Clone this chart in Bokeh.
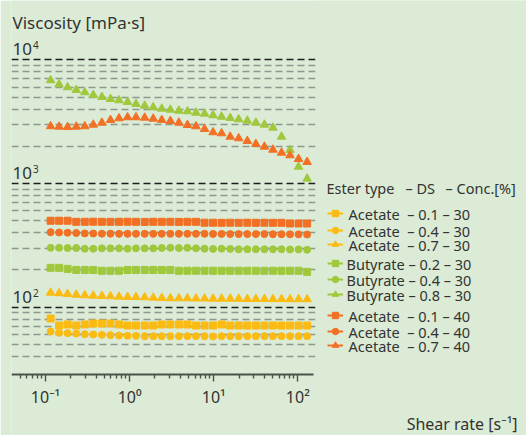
from bokeh.plotting import figure
from bokeh.models import FixedTicker, Legend, LegendItem, Label, BoxAnnotation
from bokeh.core.properties import value
from bokeh.embed import file_html
from bokeh.resources import INLINE

# ---------------- data ----------------
shear_rate = [0.115, 0.145, 0.183, 0.232, 0.293, 0.370, 0.468, 0.592, 0.748, 0.945,
              1.19, 1.51, 1.91, 2.41, 3.05, 3.85, 4.87, 6.15, 7.78, 9.82,
              12.4, 15.7, 19.8, 25.1, 31.7, 40.1, 50.6, 64.0, 80.8, 102.0, 129.0]

acetate_01_30 = [81, 71.1, 72.5, 71.1, 72.5, 73.8, 73.8, 73.8, 72.5, 71.1,
                 71.1, 71.1, 71.1, 72.5, 72.5, 72.5, 72.5, 71.1, 71.1, 71.1,
                 72.5, 71.1, 71.1, 71.1, 71.1, 71.1, 71.1, 71.1, 71.1, 71.1, 71.1]
acetate_04_30 = [63.6, 62.1, 61.7, 61.3, 60.5, 60.2, 59.8, 59.4, 59.0, 58.7,
                 58.7, 58.3, 58.3, 58.3, 58.3, 58.3, 58.3, 58.3, 58.3, 58.0,
                 58.3, 58.3, 58.3, 58.3, 58.3, 58.3, 58.3, 58.3, 58.3, 58.3, 58.3]
acetate_07_30 = [131, 129.6, 127.9, 126.2, 124.8, 123.9, 123.2, 122.5, 121.6, 120.9,
                 120.9, 120.2, 119.4, 118.7, 118, 118, 118, 117.5, 117.5, 117.1,
                 117.1, 117.1, 116.8, 116.5, 116.5, 116.5, 116.2, 116.2, 116, 116, 115.9]
butyrate_02_30 = [208, 208, 204, 200, 200, 200, 197, 197, 197, 200,
                  200, 200, 200, 200, 200, 197, 197, 197, 197, 197,
                  197, 197, 197, 197, 197, 197, 197, 197, 197, 197, 193]
butyrate_04_30 = [302, 302, 301, 301, 297, 297, 299, 299, 299, 297,
                  299, 299, 299, 301, 302, 301, 302, 299, 297, 296,
                  297, 296, 294, 294, 294, 294, 294, 294, 293, 293, 291]
butyrate_08_30 = [6828, 6336, 5993, 5700, 5461, 5193, 5004, 4821, 4706, 4560,
                  4393, 4256, 4130, 4024, 3950, 3877, 3834, 3735, 3667, 3558,
                  3467, 3384, 3304, 3219, 3101, 2988, 2826, 2389, 1866, 1367, 1094]
acetate_01_40 = [500, 500, 500, 490, 490, 491, 490, 490, 490, 491,
                 490, 489, 490, 490, 490, 489, 490, 490, 482, 482,
                 481, 482, 481, 482, 481, 482, 481, 481, 475, 475, 475]
acetate_04_40 = [404, 402, 400, 398, 395, 394, 393, 393, 392, 392,
                 392, 392, 392, 392, 392, 392, 392, 392, 392, 391,
                 391, 390, 390, 390, 390, 390, 389, 389, 388, 388, 387]
acetate_07_40 = [2900, 2879, 2862, 2879, 2900, 2988, 3101, 3261, 3366, 3430,
                 3430, 3404, 3341, 3261, 3201, 3101, 2971, 2900, 2758, 2594,
                 2546, 2389, 2319, 2206, 2086, 1984, 1876, 1774, 1690, 1578, 1492]

series_values = [acetate_01_30, acetate_04_30, acetate_07_30,
                 butyrate_02_30, butyrate_04_30, butyrate_08_30,
                 acetate_01_40, acetate_04_40, acetate_07_40]
series_labels = ["Acetate\u00a0\u00a0\u2013 0.1 \u2013 30", "Acetate\u00a0\u00a0\u2013 0.4 \u2013 30",
                 "Acetate\u00a0\u00a0\u2013 0.7 \u2013 30", "Butyrate \u2013 0.2 \u2013 30",
                 "Butyrate \u2013 0.4 \u2013 30", "Butyrate \u2013 0.8 \u2013 30",
                 "Acetate\u00a0\u00a0\u2013 0.1 \u2013 40", "Acetate\u00a0\u00a0\u2013 0.4 \u2013 40",
                 "Acetate\u00a0\u00a0\u2013 0.7 \u2013 40"]
series_markers = ["square", "circle", "triangle"] * 3
legend_header = ["Ester type", "\u2013 DS", "\u2013 Conc.[%]"]

x_major = [0.1, 1, 10, 100]
x_major_text = ["10\u207b\u00b9", "10\u2070", "10\u00b9", "10\u00b2"]
x_minor = [0.05, 0.06, 0.07, 0.08, 0.09,
           0.2, 0.3, 0.4, 0.5, 0.6, 0.7, 0.8, 0.9,
           2, 3, 4, 5, 6, 7, 8, 9,
           20, 30, 40, 50, 60, 70, 80, 90]
y_major = [10000, 1000, 100]
y_major_base = ["10", "10", "10"]
y_major_exp = ["4", "3", "2"]
y_minor = [40, 50, 60, 70, 80, 90,
           200, 300, 400, 500, 600, 700, 800, 900,
           2000, 3000, 4000, 5000, 6000, 7000, 8000, 9000]

# ---------------- style / layout ----------------
BG = "#dbebd5"
YELLOW = "#fcbb12"
GREEN = "#a0c83c"
ORANGE = "#f27024"
series_colors = [YELLOW] * 3 + [GREEN] * 3 + [ORANGE] * 3
TEXT = "#333333"
FONT = "Noto Sans"

# the frame covers the canvas from x=11 to the right edge and the full height
X0, X1 = 0.0394, 52400
Y0, Y1 = 9.18, 30160
AXIS_Y = 28.57     # data y where the x axis line sits
GRID_END = 162     # data x where the dashed grid stops
AXIS_END = 154     # data x where the axis line stops
frame_left, frame_bottom = 11, 435

p = figure(width=526, height=435, x_axis_type="log", y_axis_type="log",
           x_range=(X0, X1), y_range=(Y0, Y1), y_axis_location=None,
           toolbar_location=None, output_backend="svg",
           min_border_left=11, min_border_right=0, min_border_top=0, min_border_bottom=0,
           background_fill_color=BG, border_fill_color=BG, outline_line_color=None)

# grid
p.xgrid.visible = False
g = p.ygrid[0]
g.ticker = FixedTicker(ticks=y_major, minor_ticks=y_minor)
g.grid_line_color = "#1e1e1e"
g.grid_line_width = 1.3
g.grid_line_dash = "7 4"
g.minor_grid_line_color = "#8d998f"
g.minor_grid_line_width = 1.6
g.minor_grid_line_dash = "7 4"

# hide the grid to the right of the data area (legend area)
p.add_layout(BoxAnnotation(left=GRID_END, fill_color=BG, fill_alpha=1, line_color=None))

# x axis
ax = p.xaxis[0]
ax.fixed_location = AXIS_Y
ax.ticker = FixedTicker(ticks=x_major, minor_ticks=x_minor)
ax.bounds = (X0, AXIS_END)
ax.major_label_overrides = dict(zip(x_major, x_major_text))
ax.axis_line_color = "#4a524c"
ax.axis_line_width = 2
ax.major_tick_in = 0
ax.major_tick_out = 7
ax.minor_tick_in = 0
ax.minor_tick_out = 4
ax.major_tick_line_color = "#4a524c"
ax.minor_tick_line_color = "#4a524c"
ax.major_tick_line_width = 1.4
ax.minor_tick_line_width = 1.4
ax.major_label_text_font = FONT
ax.major_label_text_font_size = "16px"
ax.major_label_text_color = TEXT
ax.major_label_standoff = 4

# y "tick labels" drawn above the decade grid lines
p.text(x=[X0] * len(y_major), y=y_major, text=y_major_base, x_offset=1, y_offset=-10.5,
       text_font=value(FONT), text_font_size="17px", text_color=TEXT,
       text_baseline="middle", text_align="left")
p.text(x=[X0] * len(y_major), y=y_major, text=y_major_exp, x_offset=21.5, y_offset=-14.5,
       text_font=value(FONT), text_font_size="10px", text_color=TEXT,
       text_baseline="middle", text_align="left")

def add_label(txt, x, y_mid, size, align="left"):
    # y_mid: vertical middle of the text, in pixels from the top of the canvas
    p.add_layout(Label(x=x - frame_left, y=frame_bottom - y_mid, x_units="screen",
                       y_units="screen", text=txt, text_font=FONT, text_font_size=size,
                       text_color=TEXT, text_align=align, text_baseline="middle"))

# data + legend (legend glyphs via Legend, legend texts via Labels)
legend_rows_y = [212.7, 229.5, 243.8, 262.7, 278.8, 293.5, 315, 331.3, 345.3]
legend_text_x = [348, 348, 348, 346, 346, 346, 348, 348, 348]
for vals, lab, mk, col, yc, tx in zip(series_values, series_labels, series_markers,
                                      series_colors, legend_rows_y, legend_text_x):
    size = 8.5 if mk == "triangle" else 7
    r = p.scatter(shear_rate, vals, marker=mk, size=size, fill_color=col, line_color=col)
    ln = p.line(x=[float("nan")], y=[float("nan")], line_color=col, line_width=2)
    leg = Legend(items=[LegendItem(label=" ", renderers=[ln, r])],
                 location=(327 - frame_left, frame_bottom - (yc + 8)),
                 glyph_width=16, glyph_height=16, label_height=16, label_width=1,
                 label_standoff=0, padding=0, margin=0, spacing=0,
                 border_line_color=None, background_fill_alpha=0,
                 label_text_font_size="1px")
    p.add_layout(leg)
    add_label(lab, tx, yc + 0.5, "14.5px")

# texts
add_label("Viscosity [mPa\u00b7s]", 12, 21.5, "17px")
for txt, hx in zip(legend_header, [326, 405, 445]):
    add_label(txt, hx, 187.3, "14.5px")
add_label("Shear rate [s\u207b\u00b9]", 517, 423.3, "16px", "right")

open("out.html", "w").write(file_html(p, INLINE))
